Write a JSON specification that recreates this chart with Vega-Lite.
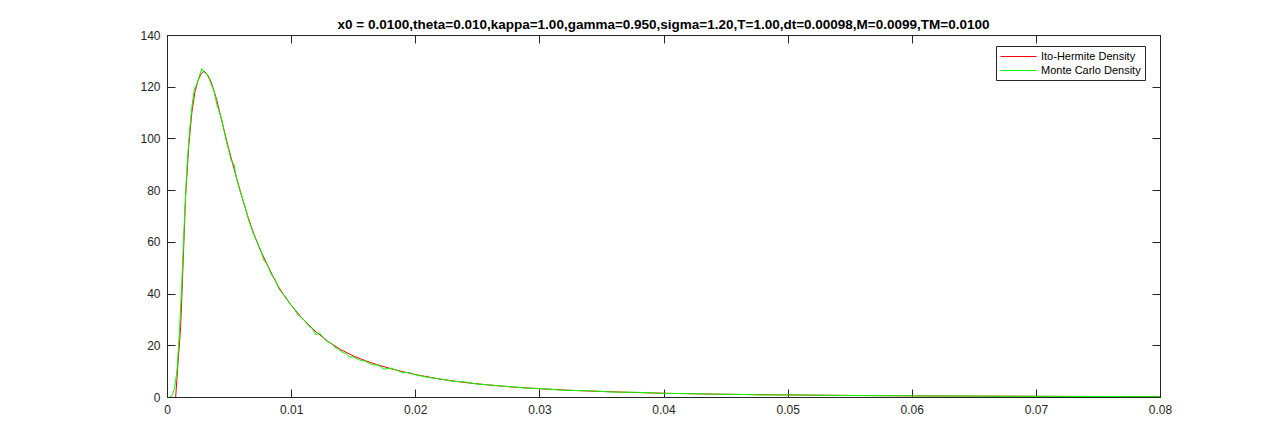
{
  "$schema": "https://vega.github.io/schema/vega-lite/v6.json",
  "autosize": {"type": "none"},
  "padding": {"left": 167, "top": 35, "right": 120, "bottom": 49},
  "width": 993,
  "height": 362,
  "background": "white",
  "title": {
    "text": "x0 = 0.0100,theta=0.010,kappa=1.00,gamma=0.950,sigma=1.20,T=1.00,dt=0.00098,M=0.0099,TM=0.0100",
    "font": "Liberation Sans",
    "fontSize": 13.5,
    "fontWeight": "bold",
    "color": "#000000",
    "anchor": "middle",
    "offset": -2
  },
  "config": {
    "view": {"stroke": "#262626", "strokeWidth": 1},
    "axis": {
      "grid": false,
      "domainColor": "#262626",
      "tickColor": "#262626",
      "labelColor": "#262626",
      "labelFont": "Liberation Sans",
      "labelFontSize": 12,
      "tickSize": -8,
      "tickWidth": 1,
      "domainWidth": 1,
      "title": null
    },
    "legend": {
      "labelFont": "Liberation Sans",
      "labelFontSize": 11,
      "labelColor": "#000000"
    }
  },
  "data": {
    "values": [
      {"series": "Ito-Hermite Density", "x": 0.0007, "y": 0},
      {"series": "Ito-Hermite Density", "x": 0.0009, "y": 14},
      {"series": "Ito-Hermite Density", "x": 0.0011, "y": 27},
      {"series": "Ito-Hermite Density", "x": 0.0013, "y": 52},
      {"series": "Ito-Hermite Density", "x": 0.0015, "y": 78},
      {"series": "Ito-Hermite Density", "x": 0.00175, "y": 97},
      {"series": "Ito-Hermite Density", "x": 0.002, "y": 110},
      {"series": "Ito-Hermite Density", "x": 0.00225, "y": 118},
      {"series": "Ito-Hermite Density", "x": 0.0025, "y": 122.5},
      {"series": "Ito-Hermite Density", "x": 0.00275, "y": 125},
      {"series": "Ito-Hermite Density", "x": 0.003, "y": 126},
      {"series": "Ito-Hermite Density", "x": 0.00325, "y": 124.8},
      {"series": "Ito-Hermite Density", "x": 0.0035, "y": 122.5},
      {"series": "Ito-Hermite Density", "x": 0.00375, "y": 119},
      {"series": "Ito-Hermite Density", "x": 0.004, "y": 115},
      {"series": "Ito-Hermite Density", "x": 0.0045, "y": 105},
      {"series": "Ito-Hermite Density", "x": 0.005, "y": 95.5},
      {"series": "Ito-Hermite Density", "x": 0.0055, "y": 86.5},
      {"series": "Ito-Hermite Density", "x": 0.006, "y": 78},
      {"series": "Ito-Hermite Density", "x": 0.0065, "y": 70},
      {"series": "Ito-Hermite Density", "x": 0.007, "y": 63},
      {"series": "Ito-Hermite Density", "x": 0.0075, "y": 57},
      {"series": "Ito-Hermite Density", "x": 0.008, "y": 52},
      {"series": "Ito-Hermite Density", "x": 0.0085, "y": 47},
      {"series": "Ito-Hermite Density", "x": 0.009, "y": 42.5},
      {"series": "Ito-Hermite Density", "x": 0.0095, "y": 38.8},
      {"series": "Ito-Hermite Density", "x": 0.01, "y": 35.5},
      {"series": "Ito-Hermite Density", "x": 0.011, "y": 29.8},
      {"series": "Ito-Hermite Density", "x": 0.012, "y": 25.2},
      {"series": "Ito-Hermite Density", "x": 0.013, "y": 21.4},
      {"series": "Ito-Hermite Density", "x": 0.014, "y": 18.3},
      {"series": "Ito-Hermite Density", "x": 0.015, "y": 15.9},
      {"series": "Ito-Hermite Density", "x": 0.016, "y": 14},
      {"series": "Ito-Hermite Density", "x": 0.017, "y": 12.4},
      {"series": "Ito-Hermite Density", "x": 0.018, "y": 11},
      {"series": "Ito-Hermite Density", "x": 0.019, "y": 9.8},
      {"series": "Ito-Hermite Density", "x": 0.02, "y": 8.7},
      {"series": "Ito-Hermite Density", "x": 0.022, "y": 6.9},
      {"series": "Ito-Hermite Density", "x": 0.024, "y": 5.6},
      {"series": "Ito-Hermite Density", "x": 0.026, "y": 4.6},
      {"series": "Ito-Hermite Density", "x": 0.028, "y": 3.8},
      {"series": "Ito-Hermite Density", "x": 0.03, "y": 3.2},
      {"series": "Ito-Hermite Density", "x": 0.032, "y": 2.7},
      {"series": "Ito-Hermite Density", "x": 0.034, "y": 2.3},
      {"series": "Ito-Hermite Density", "x": 0.036, "y": 2.0},
      {"series": "Ito-Hermite Density", "x": 0.038, "y": 1.7},
      {"series": "Ito-Hermite Density", "x": 0.04, "y": 1.45},
      {"series": "Ito-Hermite Density", "x": 0.043, "y": 1.2},
      {"series": "Ito-Hermite Density", "x": 0.046, "y": 1.0},
      {"series": "Ito-Hermite Density", "x": 0.05, "y": 0.8},
      {"series": "Ito-Hermite Density", "x": 0.055, "y": 0.6},
      {"series": "Ito-Hermite Density", "x": 0.06, "y": 0.45},
      {"series": "Ito-Hermite Density", "x": 0.065, "y": 0.35},
      {"series": "Ito-Hermite Density", "x": 0.07, "y": 0.27},
      {"series": "Ito-Hermite Density", "x": 0.075, "y": 0.2},
      {"series": "Ito-Hermite Density", "x": 0.08, "y": 0.15},
      {"series": "Monte Carlo Density", "x": 0.0002, "y": 0},
      {"series": "Monte Carlo Density", "x": 0.0004, "y": 0.5},
      {"series": "Monte Carlo Density", "x": 0.0006, "y": 3},
      {"series": "Monte Carlo Density", "x": 0.0008, "y": 10},
      {"series": "Monte Carlo Density", "x": 0.001, "y": 25},
      {"series": "Monte Carlo Density", "x": 0.0012, "y": 45},
      {"series": "Monte Carlo Density", "x": 0.0014, "y": 68},
      {"series": "Monte Carlo Density", "x": 0.0016, "y": 88},
      {"series": "Monte Carlo Density", "x": 0.0018, "y": 102},
      {"series": "Monte Carlo Density", "x": 0.002, "y": 112},
      {"series": "Monte Carlo Density", "x": 0.0022, "y": 119},
      {"series": "Monte Carlo Density", "x": 0.0024, "y": 121},
      {"series": "Monte Carlo Density", "x": 0.0025, "y": 122.5},
      {"series": "Monte Carlo Density", "x": 0.0026, "y": 124},
      {"series": "Monte Carlo Density", "x": 0.0028, "y": 127},
      {"series": "Monte Carlo Density", "x": 0.003, "y": 125.5},
      {"series": "Monte Carlo Density", "x": 0.0032, "y": 125},
      {"series": "Monte Carlo Density", "x": 0.0034, "y": 123},
      {"series": "Monte Carlo Density", "x": 0.0036, "y": 120.5},
      {"series": "Monte Carlo Density", "x": 0.0038, "y": 118},
      {"series": "Monte Carlo Density", "x": 0.004, "y": 113.5},
      {"series": "Monte Carlo Density", "x": 0.0042, "y": 110.5},
      {"series": "Monte Carlo Density", "x": 0.0044, "y": 107.5},
      {"series": "Monte Carlo Density", "x": 0.0046, "y": 103},
      {"series": "Monte Carlo Density", "x": 0.0048, "y": 98.5},
      {"series": "Monte Carlo Density", "x": 0.005, "y": 95},
      {"series": "Monte Carlo Density", "x": 0.0052, "y": 91},
      {"series": "Monte Carlo Density", "x": 0.0054, "y": 90},
      {"series": "Monte Carlo Density", "x": 0.0056, "y": 84.5},
      {"series": "Monte Carlo Density", "x": 0.0058, "y": 81},
      {"series": "Monte Carlo Density", "x": 0.006, "y": 78},
      {"series": "Monte Carlo Density", "x": 0.0063, "y": 73.5},
      {"series": "Monte Carlo Density", "x": 0.0066, "y": 68},
      {"series": "Monte Carlo Density", "x": 0.0069, "y": 64},
      {"series": "Monte Carlo Density", "x": 0.0072, "y": 60.5},
      {"series": "Monte Carlo Density", "x": 0.0075, "y": 57.5},
      {"series": "Monte Carlo Density", "x": 0.0078, "y": 53},
      {"series": "Monte Carlo Density", "x": 0.0081, "y": 51},
      {"series": "Monte Carlo Density", "x": 0.0084, "y": 47.5},
      {"series": "Monte Carlo Density", "x": 0.0087, "y": 45.5},
      {"series": "Monte Carlo Density", "x": 0.009, "y": 42},
      {"series": "Monte Carlo Density", "x": 0.0093, "y": 40},
      {"series": "Monte Carlo Density", "x": 0.0096, "y": 38.5},
      {"series": "Monte Carlo Density", "x": 0.0099, "y": 36},
      {"series": "Monte Carlo Density", "x": 0.0102, "y": 34.5},
      {"series": "Monte Carlo Density", "x": 0.0105, "y": 32},
      {"series": "Monte Carlo Density", "x": 0.0108, "y": 30.8},
      {"series": "Monte Carlo Density", "x": 0.0111, "y": 29.5},
      {"series": "Monte Carlo Density", "x": 0.0114, "y": 27.5},
      {"series": "Monte Carlo Density", "x": 0.0117, "y": 26.5},
      {"series": "Monte Carlo Density", "x": 0.012, "y": 24},
      {"series": "Monte Carlo Density", "x": 0.0123, "y": 24.8},
      {"series": "Monte Carlo Density", "x": 0.0126, "y": 22.8},
      {"series": "Monte Carlo Density", "x": 0.0129, "y": 21.5},
      {"series": "Monte Carlo Density", "x": 0.0132, "y": 20.8},
      {"series": "Monte Carlo Density", "x": 0.0135, "y": 19.4},
      {"series": "Monte Carlo Density", "x": 0.0138, "y": 18.5},
      {"series": "Monte Carlo Density", "x": 0.0141, "y": 17.4},
      {"series": "Monte Carlo Density", "x": 0.0144, "y": 16.8},
      {"series": "Monte Carlo Density", "x": 0.0147, "y": 15.5},
      {"series": "Monte Carlo Density", "x": 0.015, "y": 15.6},
      {"series": "Monte Carlo Density", "x": 0.0155, "y": 14.3},
      {"series": "Monte Carlo Density", "x": 0.016, "y": 13.8},
      {"series": "Monte Carlo Density", "x": 0.0165, "y": 12.5},
      {"series": "Monte Carlo Density", "x": 0.017, "y": 12.4},
      {"series": "Monte Carlo Density", "x": 0.0175, "y": 10.8},
      {"series": "Monte Carlo Density", "x": 0.018, "y": 11.2},
      {"series": "Monte Carlo Density", "x": 0.0185, "y": 10.4},
      {"series": "Monte Carlo Density", "x": 0.019, "y": 9.4},
      {"series": "Monte Carlo Density", "x": 0.0195, "y": 9.5},
      {"series": "Monte Carlo Density", "x": 0.02, "y": 8.6},
      {"series": "Monte Carlo Density", "x": 0.021, "y": 7.6},
      {"series": "Monte Carlo Density", "x": 0.022, "y": 7.0},
      {"series": "Monte Carlo Density", "x": 0.023, "y": 6.1},
      {"series": "Monte Carlo Density", "x": 0.024, "y": 5.8},
      {"series": "Monte Carlo Density", "x": 0.025, "y": 5.0},
      {"series": "Monte Carlo Density", "x": 0.026, "y": 4.7},
      {"series": "Monte Carlo Density", "x": 0.027, "y": 4.2},
      {"series": "Monte Carlo Density", "x": 0.028, "y": 3.9},
      {"series": "Monte Carlo Density", "x": 0.029, "y": 3.4},
      {"series": "Monte Carlo Density", "x": 0.03, "y": 3.3},
      {"series": "Monte Carlo Density", "x": 0.032, "y": 2.6},
      {"series": "Monte Carlo Density", "x": 0.034, "y": 2.4},
      {"series": "Monte Carlo Density", "x": 0.036, "y": 1.9},
      {"series": "Monte Carlo Density", "x": 0.038, "y": 1.8},
      {"series": "Monte Carlo Density", "x": 0.04, "y": 1.4},
      {"series": "Monte Carlo Density", "x": 0.042, "y": 1.3},
      {"series": "Monte Carlo Density", "x": 0.044, "y": 1.1},
      {"series": "Monte Carlo Density", "x": 0.046, "y": 1.0},
      {"series": "Monte Carlo Density", "x": 0.048, "y": 0.8},
      {"series": "Monte Carlo Density", "x": 0.05, "y": 0.85},
      {"series": "Monte Carlo Density", "x": 0.053, "y": 0.65},
      {"series": "Monte Carlo Density", "x": 0.056, "y": 0.55},
      {"series": "Monte Carlo Density", "x": 0.06, "y": 0.45},
      {"series": "Monte Carlo Density", "x": 0.064, "y": 0.35},
      {"series": "Monte Carlo Density", "x": 0.068, "y": 0.3},
      {"series": "Monte Carlo Density", "x": 0.072, "y": 0.22},
      {"series": "Monte Carlo Density", "x": 0.076, "y": 0.18},
      {"series": "Monte Carlo Density", "x": 0.08, "y": 0.12}
    ]
  },
  "layer": [
    {
      "mark": {"type": "line", "strokeWidth": 1, "clip": true},
      "encoding": {
        "x": {
          "field": "x", "type": "quantitative",
          "scale": {"domain": [0, 0.08], "nice": false, "zero": false},
          "axis": {"orient": "bottom", "values": [0, 0.01, 0.02, 0.03, 0.04, 0.05, 0.06, 0.07, 0.08], "format": "~g", "labelPadding": 15, "labelFlush": false}
        },
        "y": {
          "field": "y", "type": "quantitative",
          "scale": {"domain": [0, 140], "nice": false},
          "axis": {"orient": "left", "values": [0, 20, 40, 60, 80, 100, 120, 140], "labelPadding": 15}
        },
        "color": {
          "field": "series", "type": "nominal",
          "scale": {"domain": ["Ito-Hermite Density", "Monte Carlo Density"], "range": ["#FF0000", "#00FF00"]},
          "legend": {
            "title": null,
            "orient": "none",
            "legendX": 829,
            "legendY": 11,
            "symbolType": "M-3,0H3",
            "symbolSize": 144,
            "symbolStrokeWidth": 1,
            "symbolOffset": 12,
            "strokeColor": "#262626",
            "fillColor": "white",
            "padding": 4,
            "rowPadding": 2,
            "labelOffset": 16
          }
        }
      }
    },
    {
      "mark": {"type": "line", "opacity": 0},
      "encoding": {
        "x": {
          "field": "x", "type": "quantitative",
          "axis": {"orient": "top", "values": [0, 0.01, 0.02, 0.03, 0.04, 0.05, 0.06, 0.07, 0.08], "labels": false}
        },
        "y": {
          "field": "y", "type": "quantitative",
          "axis": {"orient": "right", "values": [0, 20, 40, 60, 80, 100, 120, 140], "labels": false}
        }
      }
    }
  ],
  "resolve": {"axis": {"x": "independent", "y": "independent"}}
}
